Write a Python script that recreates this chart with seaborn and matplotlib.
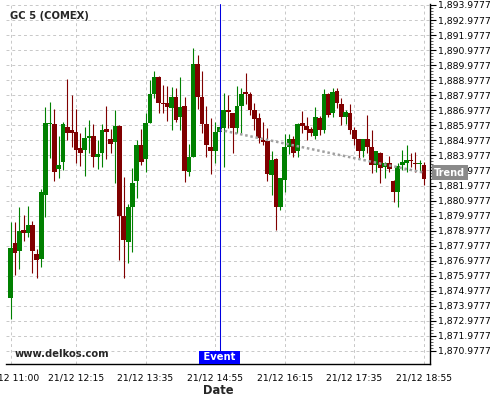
import numpy as np
import pandas as pd
import matplotlib
matplotlib.use("Agg")
import matplotlib.pyplot as plt
import seaborn as sns
from matplotlib.ticker import FixedLocator, FuncFormatter
import matplotlib.transforms as mtransforms

# ---------------- data ----------------
title = "GC 5 (COMEX)"
start_time = "2023-12-21 11:00"
opens = [1874.52, 1878.14, 1877.65, 1879.02, 1878.84, 1879.36, 1877.43, 1877.11, 1881.35, 1886.05,
         1886.07, 1883.08, 1883.56, 1885.85, 1885.67, 1885.54, 1884.49, 1884.34, 1885.16, 1885.27,
         1883.90, 1884.16, 1885.74, 1885.07, 1884.89, 1885.94, 1879.97, 1878.25, 1880.57, 1882.30,
         1884.67, 1883.72, 1886.16, 1888.06, 1889.19, 1887.49, 1887.45, 1887.11, 1887.84, 1886.51,
         1887.27, 1882.90, 1883.90, 1890.06, 1887.88, 1886.07, 1884.56, 1884.29, 1885.56, 1885.78,
         1887.00, 1886.82, 1885.78, 1887.27, 1888.22, 1888.06, 1887.00, 1886.45, 1885.01, 1884.94,
         1882.68, 1883.72, 1880.57, 1882.35, 1884.56, 1885.05, 1884.29, 1886.12, 1885.94, 1885.72,
         1885.27, 1886.45, 1885.67, 1888.06, 1886.82, 1888.28, 1887.40, 1886.55, 1886.82, 1885.67,
         1885.07, 1884.29, 1885.07, 1884.52, 1883.34, 1884.16, 1883.19, 1883.50, 1882.30, 1881.57,
         1883.34, 1883.46, 1883.68, 1883.50, 1883.39, 1883.34]
highs = [1879.53, 1879.53, 1880.53, 1880.00, 1880.60, 1879.62, 1877.74, 1881.77, 1887.18, 1887.55,
         1887.05, 1885.27, 1886.22, 1889.04, 1888.00, 1887.05, 1885.45, 1885.85, 1886.34, 1886.05,
         1885.01, 1886.05, 1887.27, 1885.72, 1887.00, 1886.00, 1882.57, 1880.75, 1883.12, 1885.01,
         1885.72, 1886.82, 1888.99, 1889.59, 1889.25, 1888.66, 1888.60, 1888.55, 1888.44, 1889.21,
         1887.84, 1884.74, 1891.10, 1890.66, 1889.61, 1887.27, 1886.45, 1886.22, 1886.20, 1888.11,
         1887.99, 1886.82, 1888.60, 1888.44, 1889.44, 1888.20, 1887.45, 1886.78, 1886.22, 1885.78,
         1884.29, 1883.80, 1882.50, 1885.40, 1885.40, 1885.27, 1886.16, 1886.95, 1886.51, 1885.89,
         1887.18, 1886.60, 1888.38, 1888.10, 1888.44, 1888.44, 1887.78, 1887.00, 1887.40, 1885.90,
         1885.10, 1885.10, 1886.67, 1885.67, 1884.30, 1884.20, 1883.55, 1883.94, 1882.35, 1883.46,
         1884.34, 1884.67, 1884.16, 1884.23, 1883.68, 1883.56]
lows = [1873.13, 1876.03, 1876.41, 1878.31, 1878.54, 1876.18, 1875.81, 1876.58, 1879.91, 1883.79,
        1882.30, 1882.46, 1883.01, 1885.01, 1884.56, 1883.50, 1883.30, 1882.61, 1884.12, 1883.23,
        1883.06, 1883.23, 1883.72, 1884.12, 1882.13, 1877.03, 1875.81, 1876.81, 1877.58, 1881.13,
        1883.34, 1882.88, 1886.12, 1887.78, 1886.78, 1886.78, 1886.29, 1885.67, 1886.22, 1885.67,
        1882.23, 1882.61, 1883.86, 1887.05, 1885.45, 1883.90, 1882.75, 1883.50, 1885.47, 1883.23,
        1885.78, 1884.12, 1885.45, 1885.45, 1887.40, 1886.67, 1885.67, 1884.79, 1884.67, 1882.30,
        1881.35, 1879.02, 1880.35, 1881.57, 1884.08, 1883.86, 1883.90, 1885.49, 1885.01, 1885.27,
        1885.05, 1885.34, 1885.49, 1886.51, 1886.51, 1887.11, 1886.00, 1886.07, 1885.40, 1884.67,
        1883.79, 1883.90, 1884.12, 1882.79, 1882.90, 1882.13, 1882.46, 1882.90, 1880.90, 1880.57,
        1883.01, 1882.90, 1883.23, 1882.90, 1882.90, 1882.01]
closes = [1877.81, 1877.47, 1878.96, 1878.84, 1879.36, 1877.65, 1877.05, 1881.55, 1886.12, 1886.12,
          1882.90, 1883.34, 1886.07, 1885.49, 1885.49, 1884.34, 1884.16, 1885.16, 1885.23, 1883.90,
          1884.08, 1885.67, 1885.54, 1884.76, 1885.94, 1879.97, 1878.36, 1880.57, 1882.17, 1884.67,
          1883.56, 1886.12, 1888.06, 1889.19, 1887.45, 1887.40, 1887.22, 1887.84, 1886.34, 1887.18,
          1882.97, 1883.90, 1890.06, 1887.88, 1886.07, 1884.67, 1884.29, 1885.54, 1885.89, 1887.00,
          1886.89, 1885.78, 1887.27, 1888.06, 1888.06, 1887.00, 1886.38, 1885.12, 1884.89, 1882.75,
          1883.68, 1880.57, 1882.46, 1884.56, 1885.05, 1884.16, 1886.07, 1885.94, 1885.67, 1885.49,
          1886.51, 1885.67, 1888.06, 1886.67, 1888.22, 1887.49, 1886.55, 1886.89, 1885.67, 1885.05,
          1884.29, 1885.07, 1884.52, 1883.34, 1884.27, 1883.12, 1883.50, 1883.06, 1881.57, 1883.28,
          1883.56, 1883.68, 1883.59, 1883.39, 1883.50, 1882.39]

tick_times = ["2023-12-21 11:00", "2023-12-21 12:15", "2023-12-21 13:35", "2023-12-21 14:55",
              "2023-12-21 16:15", "2023-12-21 17:35", "2023-12-21 18:55"]
tick_labels = ["21/12 11:00", "21/12 12:15", "21/12 13:35", "21/12 14:55",
               "21/12 16:15", "21/12 17:35", "21/12 18:55"]
event_time = "2023-12-21 15:00"
trend_times = ["2023-12-21 15:00", "2023-12-21 18:55"]
trend_values = [1885.68, 1882.83]
y_tick_values = [1870.9777 + k for k in range(24)]
y_limits = (1870.113, 1894.044)
watermark = "www.delkos.com"

# ---------------- build ----------------
times = pd.date_range(start_time, periods=len(opens), freq="5min")
df = pd.DataFrame({"time": times, "open": opens, "high": highs, "low": lows, "close": closes})
df["x"] = np.arange(len(df))
pos = {t: i for i, t in enumerate(times)}
tick_x = [pos[pd.Timestamp(t)] for t in tick_times]
event_x = pos[pd.Timestamp(event_time)]
trend_df = pd.DataFrame({"x": [pos[pd.Timestamp(t)] for t in trend_times], "y": trend_values})

sns.set_style("white")
plt.rcParams["font.family"] = ["DejaVu Sans"]

fig = plt.figure(figsize=(5, 4), dpi=100)
ax = fig.add_axes([6 / 500, 36 / 400, 424 / 500, 360 / 400])

up = df["close"] >= df["open"]
colors = np.where(up, "#008000", "#800000")
body_low = np.minimum(df["open"], df["close"])
body_h = np.maximum(np.abs(df["close"] - df["open"]), 0.08)

ax.vlines(df["x"], df["low"], df["high"], colors=colors, linewidth=0.8, zorder=3)
ax.bar(df["x"], body_h, bottom=body_low, width=1.1, color=colors, linewidth=0, zorder=3)

sns.lineplot(data=trend_df, x="x", y="y", ax=ax, color="#a0a0a0",
             linestyle=(0, (1, 1.1)), linewidth=1.8, zorder=4)

ax.axvline(event_x, color="#0000e0", linewidth=0.75, zorder=5)

ax.set_xlim(-1.08, 96.39)
ax.set_ylim(*y_limits)

# grid
ax.grid(True, which="major", color="#c8c8c8", linestyle=(0, (3, 3)), linewidth=0.7, zorder=0)
ax.set_axisbelow(True)

# spines
for s in ["left", "top"]:
    ax.spines[s].set_visible(False)
for s in ["bottom", "right"]:
    ax.spines[s].set_color("black")
    ax.spines[s].set_linewidth(1.0)

# x ticks
ax.xaxis.set_major_locator(FixedLocator(tick_x))
ax.set_xticklabels(tick_labels)
minor_x = []
for a, b in zip(tick_x[:-1], tick_x[1:]):
    minor_x += list(np.linspace(a, b, 5)[1:-1])
ax.xaxis.set_minor_locator(FixedLocator(minor_x))
ax.tick_params(axis="x", which="major", direction="out", length=5, width=0.8, labelsize=6.7, pad=2, colors="black")
ax.tick_params(axis="x", which="minor", direction="out", length=3, width=0.6)

# y ticks on right
ax.yaxis.tick_right()
ax.yaxis.set_major_locator(FixedLocator(y_tick_values))
ax.yaxis.set_major_formatter(FuncFormatter(lambda v, p: f"{v:,.4f}"))
minor_y = []
for v in y_tick_values:
    minor_y += [v + d for d in (0.2, 0.4, 0.6, 0.8)]
ax.yaxis.set_minor_locator(FixedLocator(minor_y))
ax.tick_params(axis="y", which="major", direction="out", length=4, width=0.8, labelsize=6.7, pad=2, colors="black")
ax.tick_params(axis="y", which="minor", direction="out", length=2, width=0.5)
ax.set_ylabel("")
ax.set_xlabel("Date", fontsize=8.3, fontweight="bold", labelpad=1)

# texts
ax.text(4 / 424, 1 - 7 / 360, title, transform=ax.transAxes, ha="left", va="top",
        fontsize=7.2, fontweight="bold", zorder=6)
ax.text(9 / 424, 7 / 360, watermark, transform=ax.transAxes, ha="left", va="baseline",
        fontsize=7.2, fontweight="bold", zorder=6)

blend = mtransforms.blended_transform_factory(ax.transData, ax.transAxes)
ax.text(event_x, 2 / 360, " Event ", transform=blend, ha="center", va="bottom",
        fontsize=7.2, fontweight="bold", color="white", zorder=7,
        bbox=dict(facecolor="#0000ff", edgecolor="none", boxstyle="square,pad=0.15"))

blend_y = mtransforms.blended_transform_factory(ax.transAxes, ax.transData)
ax.text(1 + 4 / 424, trend_values[-1], "Trend", transform=blend_y, ha="left", va="center",
        fontsize=7, fontweight="bold", color="white", zorder=8, clip_on=False,
        bbox=dict(facecolor="#8a8a8a", edgecolor="none", boxstyle="square,pad=0.25"))

fig.savefig("out.png", dpi=100)
